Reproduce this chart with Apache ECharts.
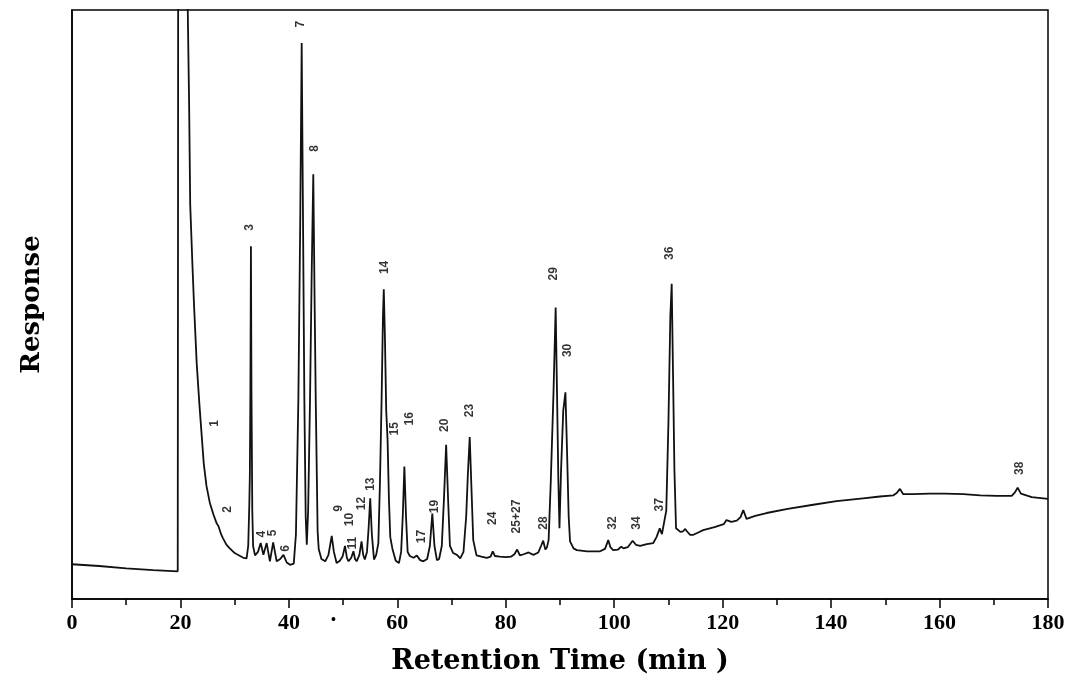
<!DOCTYPE html>
<html>
<head>
<meta charset="utf-8">
<script src="https://cdn.jsdelivr.net/npm/echarts@6/dist/echarts.min.js"></script>
<style>
  html, body { margin: 0; padding: 0; background: #fff; }
  #chart { width: 1071px; height: 680px; }
</style>
</head>
<body>
<div id="chart"></div>
<script>
// retention time (min) and detector response (arbitrary units, 0-100 = full scale)
const traceTime = [
    0, 5, 10, 15, 19.5,
    19.55, 19.6, 21.0, 21.35, 21.6, 21.8, 22.2, 22.5, 23.0, 23.5, 23.9, 24.3, 24.8, 25.4, 26.1, 26.7,
    27.0, 27.3, 27.5, 27.85, 28.5, 29.1, 30.0, 31.0, 31.6, 32.2,
    32.5, 32.7, 32.8, 32.9, 33.0, 33.1, 33.25, 33.4, 33.75,
    34.3, 34.8, 35.3, 35.9, 36.5, 37.1, 37.75, 38.4, 39.0, 39.6, 40.2,
    40.9, 41.3, 41.75, 42.1, 42.36, 42.6, 42.85, 43.1, 43.3,
    43.55, 43.9, 44.2, 44.5, 44.75, 44.95, 45.3, 45.5, 46.0, 46.7,
    47.3, 47.9, 48.3, 48.8, 49.4, 49.9, 50.35, 50.7, 51.0, 51.5, 51.9, 52.2, 52.5, 53.0, 53.4, 53.7, 54.0,
    54.4, 54.7, 55.0, 55.3, 55.7,
    56.1, 56.5, 56.8, 57.1, 57.35, 57.5, 57.7, 57.95, 58.2, 58.45, 58.7, 59.1, 59.7, 60.3,
    60.7, 61.0, 61.3, 61.6, 61.9, 62.3, 63.0, 63.6, 64.2, 64.8,
    65.5, 66.0, 66.45, 66.85, 67.3, 67.7, 68.2, 68.6, 69.0, 69.4, 69.7, 70.3, 71.0, 71.6,
    72.2, 72.7, 73.0, 73.35, 73.7, 74.0, 74.6, 75.5, 76.5, 77.2, 77.6, 78.0, 78.9, 80.0, 81.0,
    81.6, 82.1, 82.6, 83.3, 84.2, 85.1, 86.0, 86.5, 86.9, 87.3, 87.6,
    87.9, 88.3, 88.8, 89.2, 89.45, 89.7, 89.9, 90.2, 90.6, 91.0, 91.3, 91.6, 91.85,
    92.5, 93.1, 95.0, 97.4, 98.3, 98.9, 99.3, 99.8, 100.7, 101.3, 101.7, 102.5, 103.4, 104.0, 104.8,
    106.0, 107.2, 107.8, 108.4, 108.8, 109.1,
    109.6, 110.0, 110.35, 110.6, 110.85, 111.1, 111.4,
    112.2, 112.7, 113.1, 113.4, 114.0, 114.6, 115.5, 116.4, 118.5, 120.2, 120.7, 121.05, 121.6,
    122.6, 123.3, 123.8, 124.4, 126.0, 128.1, 132.0, 136.7, 141.0, 145.9, 149.0, 151.5,
    152.1, 152.7, 153.3, 155.0, 158.2, 161.0, 164.4, 167.5, 170.5, 173.3, 173.9, 174.4, 175.0,
    175.2, 177.0, 180
];
const traceResponse = [
    5.9, 5.6, 5.2, 4.9, 4.7,
    60, 140, 140, 100, 84, 67, 57, 50, 40, 33, 28.0, 23.0, 19.2, 16.4, 14.3, 12.8,
    12.4, 12.6, 11.0, 10.3, 9.2, 8.6, 7.8, 7.3, 7.0, 6.9,
    9, 16, 21, 35, 59.9, 35, 15, 9, 7.4,
    8, 9.5, 7.5, 9.5, 6.4, 9.6, 6.4, 6.8, 7.5, 6.2, 5.8,
    6.0, 11, 34, 65, 94.4, 65, 34, 14, 9.2,
    15, 34, 55, 72.1, 50, 34, 11.5, 8.5, 6.8, 6.4,
    7.5, 10.7, 8, 6.1, 6.5, 7.2, 9.0, 7, 6.4, 7.0, 8.1, 6.8, 6.4, 7.5, 9.8, 7.5, 6.7,
    8, 12, 17.1, 11, 6.7,
    7.5, 9.5, 20, 34, 48, 52.6, 45, 32, 27, 17, 10.5, 8.5, 6.5, 6.1,
    8, 14, 22.5, 14, 8, 7.3, 7, 7.4, 6.6, 6.4,
    6.8, 9, 14.5, 9, 6.6, 6.8, 9, 17, 26.2, 16, 9, 7.8, 7.5, 6.9,
    8, 14, 21, 27.5, 18, 10, 7.4, 7.2, 7.0, 7.2, 8.1, 7.3, 7.2, 7.1, 7.2,
    7.6, 8.4, 7.4, 7.6, 7.9, 7.5, 7.9, 9.0, 9.9, 8.4, 8.8,
    10, 20, 35, 49.5, 35, 20, 12, 22, 32, 35.1, 25, 14, 9.8,
    8.6, 8.3, 8.1, 8.1, 8.5, 10.0, 8.8, 8.3, 8.4, 8.9, 8.6, 8.8, 9.9, 9.2, 9.0,
    9.3, 9.5, 10.5, 12.0, 11.0, 11.2,
    15, 30, 48, 53.5, 38, 22, 12,
    11.4, 11.5, 11.9, 11.5, 10.9, 10.9, 11.3, 11.7, 12.2, 12.7, 13.4, 13.6, 13.1,
    13.3, 13.9, 15.1, 13.6, 14.1, 14.6, 15.3, 16.0, 16.6, 17.1, 17.4, 17.6,
    18.0, 18.7, 17.8, 17.8, 17.9, 17.9, 17.8, 17.6, 17.5, 17.5, 18.1, 18.9, 17.9,
    17.6, 17.3, 17.0
];

// peak numbers written above the peaks
const peakNames = ['1', '2', '3', '4', '5', '6', '7', '8', '9', '10', '11', '12', '13', '14', '15', '16',
    '17', '19', '20', '23', '24', '25+27', '28', '29', '30', '32', '34', '37', '36', '38'];
const peakLabelTime = [26.4, 28.8, 32.8, 35.0, 37.1, 39.5, 42.2, 44.8, 49.1, 51.3, 51.8, 53.4, 55.1, 57.7, 59.6, 62.3,
    64.5, 66.9, 68.8, 73.3, 77.6, 82.1, 86.9, 88.8, 91.5, 99.8, 104.1, 108.4, 110.3, 174.8];
const peakLabelResp = [29.8, 15.2, 63.1, 11.0, 11.2, 8.6, 97.6, 76.5, 15.4, 13.5, 9.5, 16.2, 19.5, 56.3, 28.9, 30.6,
    10.6, 15.7, 29.5, 32.0, 13.7, 14.0, 12.9, 55.2, 42.2, 12.9, 12.9, 16.0, 58.7, 22.2];

const xTicks = { min: 0, max: 180, interval: 20 };

const chart = echarts.init(document.getElementById('chart'));

const traceData = traceTime.map((t, i) => [t, traceResponse[i]]);
const labelData = peakNames.map((n, i) => ({ name: n, value: [peakLabelTime[i], peakLabelResp[i]] }));

chart.setOption({
    animation: false,
    backgroundColor: '#fff',
    grid: {
        left: 72, right: 23, top: 10, bottom: 79,
        show: true, borderColor: '#000', borderWidth: 1.5, backgroundColor: 'transparent'
    },
    xAxis: {
        type: 'value',
        min: xTicks.min, max: xTicks.max, interval: xTicks.interval,
        name: 'Retention Time (min )',
        nameLocation: 'middle',
        nameGap: 49,
        nameTextStyle: { fontFamily: 'DejaVu Serif', fontWeight: 'bold', fontSize: 27, color: '#000' },
        axisLine: { onZero: false, lineStyle: { color: '#000', width: 1.5 } },
        axisTick: { show: true, length: 9, lineStyle: { color: '#000', width: 1.5 } },
        minorTick: { show: true, splitNumber: 2, length: 6, lineStyle: { color: '#000', width: 1.5 } },
        splitLine: { show: false },
        axisLabel: { margin: 13, fontFamily: 'Liberation Serif', fontWeight: 'bold', fontSize: 22, color: '#000' }
    },
    yAxis: {
        type: 'value',
        min: 0, max: 100,
        name: 'Response',
        nameLocation: 'middle',
        nameGap: 27,
        nameTextStyle: { fontFamily: 'DejaVu Serif', fontWeight: 'bold', fontSize: 26, color: '#000' },
        axisLine: { show: true, lineStyle: { color: '#000', width: 1.5 } },
        axisTick: { show: false },
        axisLabel: { show: false },
        splitLine: { show: false }
    },
    series: [
        {
            type: 'line',
            data: traceData,
            symbol: 'none',
            clip: true,
            lineStyle: { color: '#111', width: 1.8 }
        },
        {
            type: 'scatter',
            data: labelData,
            symbolSize: 0,
            label: {
                show: true,
                position: 'inside',
                rotate: 90,
                formatter: '{b}',
                fontFamily: 'Liberation Sans',
                fontWeight: 'bold',
                fontSize: 12,
                color: '#000'
            }
        }
    ],
    graphic: [
        { type: 'text', left: 331, top: 613, style: { text: '•', fontSize: 14, fill: '#000' } }
    ]
});
</script>
</body>
</html>
